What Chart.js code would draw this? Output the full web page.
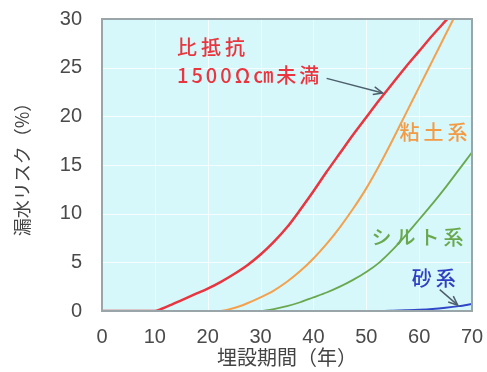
<!DOCTYPE html>
<html>
<head>
<meta charset="utf-8">
<script src="https://cdn.jsdelivr.net/npm/chart.js@4"></script>
<style>
  html, body { margin: 0; padding: 0; background: #fff; }
  #wrap { width: 487px; height: 372px; }
</style>
</head>
<body>
<div id="wrap"><canvas id="chart" width="487" height="372"></canvas></div>
<script>
// years on the x axis (every 2.5 years)
const years = [0, 2.5, 5, 7.5, 10, 12.5, 15, 17.5, 20, 22.5, 25, 27.5, 30, 32.5, 35,
  37.5, 40, 42.5, 45, 47.5, 50, 52.5, 55, 57.5, 60, 62.5, 65, 67.5, 70];

// leak risk (%) per soil type
const redValues = [0, 0, 0, 0, 0, 0.5, 1.1, 1.7, 2.3, 3.0, 3.8, 4.7, 5.8, 7.1, 8.6,
  10.4, 12.3, 14.3, 16.2, 18.1, 19.9, 21.7, 23.4, 25.1, 26.7, 28.3, 29.8, 31.3, 32.8];
const orangeValues = [0, 0, 0, 0, 0, 0, 0, 0, 0, 0, 0.3, 0.8, 1.4, 2.1, 3.0,
  4.1, 5.4, 6.9, 8.6, 10.5, 12.6, 15.0, 17.6, 20.3, 23.0, 25.7, 28.4, 31.1, 33.8];
const greenValues = [0, 0, 0, 0, 0, 0, 0, 0, 0, 0, 0, 0, 0, 0.2, 0.5,
  0.9, 1.4, 1.9, 2.5, 3.2, 4.0, 5.0, 6.3, 7.8, 9.4, 11.0, 12.7, 14.5, 16.3];
const blueValues = [0, 0, 0, 0, 0, 0, 0, 0, 0, 0, 0, 0, 0, 0, 0,
  0, 0, 0, 0, 0, 0, 0, 0.03, 0.07, 0.12, 0.2, 0.33, 0.5, 0.72];

const xTicks = [0, 10, 20, 30, 40, 50, 60, 70];
const yTicks = [0, 5, 10, 15, 20, 25, 30];

const jpFont = "'Noto Sans CJK JP', 'Noto Sans', sans-serif";
const numFont = "'Liberation Sans', Arial, sans-serif";

function points(values) {
  return years.map((y, i) => ({ x: y, y: values[i] }));
}

// background, frame and in-plot labels
const decorations = {
  id: "decorations",
  beforeDatasetsDraw(chart) {
    const { ctx, chartArea: a } = chart;
    const xs = chart.scales.x, ys = chart.scales.y;
    ctx.save();
    ctx.fillStyle = "#d6f8fa";
    ctx.fillRect(a.left, a.top, a.right - a.left, a.bottom - a.top);
    ctx.strokeStyle = "rgba(255,255,255,0.75)";
    ctx.lineWidth = 1;
    xTicks.slice(1, -1).forEach((v) => {
      const px = Math.round(xs.getPixelForValue(v)) + 0.5;
      ctx.beginPath(); ctx.moveTo(px, a.top); ctx.lineTo(px, a.bottom); ctx.stroke();
    });
    yTicks.slice(1, -1).forEach((v) => {
      const py = Math.round(ys.getPixelForValue(v)) + 0.5;
      ctx.beginPath(); ctx.moveTo(a.left, py); ctx.lineTo(a.right, py); ctx.stroke();
    });
    ctx.restore();
  },
  afterDatasetsDraw(chart) {
    const { ctx, chartArea: a } = chart;
    const xs = chart.scales.x, ys = chart.scales.y;
    const X = (v) => xs.getPixelForValue(v);
    const Y = (v) => ys.getPixelForValue(v);

    ctx.save();
    ctx.strokeStyle = "#9aa5aa";
    ctx.lineWidth = 2;
    ctx.strokeRect(a.left, a.top, a.right - a.left, a.bottom - a.top);

    ctx.textBaseline = "middle";
    ctx.textAlign = "left";
    ctx.font = "500 20px " + jpFont;
    const spacing = (px) => { if ("letterSpacing" in ctx) ctx.letterSpacing = px; };

    const label = (text, x, y, color) => {
      ctx.fillStyle = color;
      ctx.fillText(text, X(x), Y(y));
    };
    spacing("4px");
    label("比抵抗", 14.2, 27.1, "#e8353f");
    spacing("3px");
    label("1500Ω㎝未満", 14.2, 24.2, "#e8353f");
    spacing("4px");
    label("粘土系", 56.3, 18.3, "#f39a45");
    label("シルト系", 51.0, 7.6, "#6aa84f");
    label("砂系", 58.6, 3.4, "#2f3fc4");

    const arrow = (x1, y1, x2, y2) => {
      const ax = X(x1), ay = Y(y1), bx = X(x2), by = Y(y2);
      const ang = Math.atan2(by - ay, bx - ax);
      ctx.strokeStyle = "#4d5e6c";
      ctx.lineWidth = 1.5;
      ctx.beginPath(); ctx.moveTo(ax, ay); ctx.lineTo(bx, by); ctx.stroke();
      ctx.beginPath();
      ctx.moveTo(bx - 10 * Math.cos(ang - 0.4), by - 10 * Math.sin(ang - 0.4));
      ctx.lineTo(bx, by);
      ctx.lineTo(bx - 10 * Math.cos(ang + 0.4), by - 10 * Math.sin(ang + 0.4));
      ctx.stroke();
    };
    arrow(42.5, 23.9, 53.1, 22.4);
    arrow(63.9, 2.2, 67.3, 0.6);
    ctx.restore();
  },
};

const chart = new Chart(document.getElementById("chart").getContext("2d"), {
  type: "line",
  data: {
    datasets: [
      { label: "比抵抗1500Ω㎝未満", data: points(redValues), borderColor: "#e8353f", borderWidth: 2.5 },
      { label: "粘土系", data: points(orangeValues), borderColor: "#f5a04c", borderWidth: 2 },
      { label: "シルト系", data: points(greenValues), borderColor: "#6aa84f", borderWidth: 1.8 },
      { label: "砂系", data: points(blueValues), borderColor: "#3048c8", borderWidth: 2 },
    ],
  },
  options: {
    responsive: false,
    animation: false,
    layout: { padding: { top: 19, right: 15, left: 0, bottom: 0 } },
    elements: {
      point: { radius: 0 },
      line: { tension: 0.3, fill: false },
    },
    scales: {
      x: {
        type: "linear",
        min: 0,
        max: 70,
        afterFit: (s) => { s.height = 61; s.paddingLeft = 0; s.paddingRight = 0; },
        afterBuildTicks: (s) => { s.ticks = xTicks.map((v) => ({ value: v })); },
        grid: { display: false, drawTicks: false },
        border: { display: false },
        ticks: { color: "#4a4a4a", padding: 14, font: { family: numFont, size: 20 } },
        title: {
          display: true,
          text: "埋設期間（年）",
          color: "#444",
          padding: { top: 0, bottom: 3 },
          font: { family: jpFont, size: 20 },
        },
      },
      y: {
        min: 0,
        max: 30,
        afterFit: (s) => { s.width = 102; s.paddingTop = 0; s.paddingBottom = 0; },
        afterBuildTicks: (s) => { s.ticks = yTicks.map((v) => ({ value: v })); },
        grid: { display: false, drawTicks: false },
        border: { display: false },
        ticks: { color: "#4a4a4a", padding: 20, font: { family: numFont, size: 20 } },
        title: {
          display: true,
          text: "漏水リスク（%）",
          color: "#444",
          padding: { top: 11, bottom: 0 },
          font: { family: jpFont, size: 18 },
        },
      },
    },
    plugins: {
      legend: { display: false },
      tooltip: { enabled: false },
    },
  },
  plugins: [decorations],
});
</script>
</body>
</html>
